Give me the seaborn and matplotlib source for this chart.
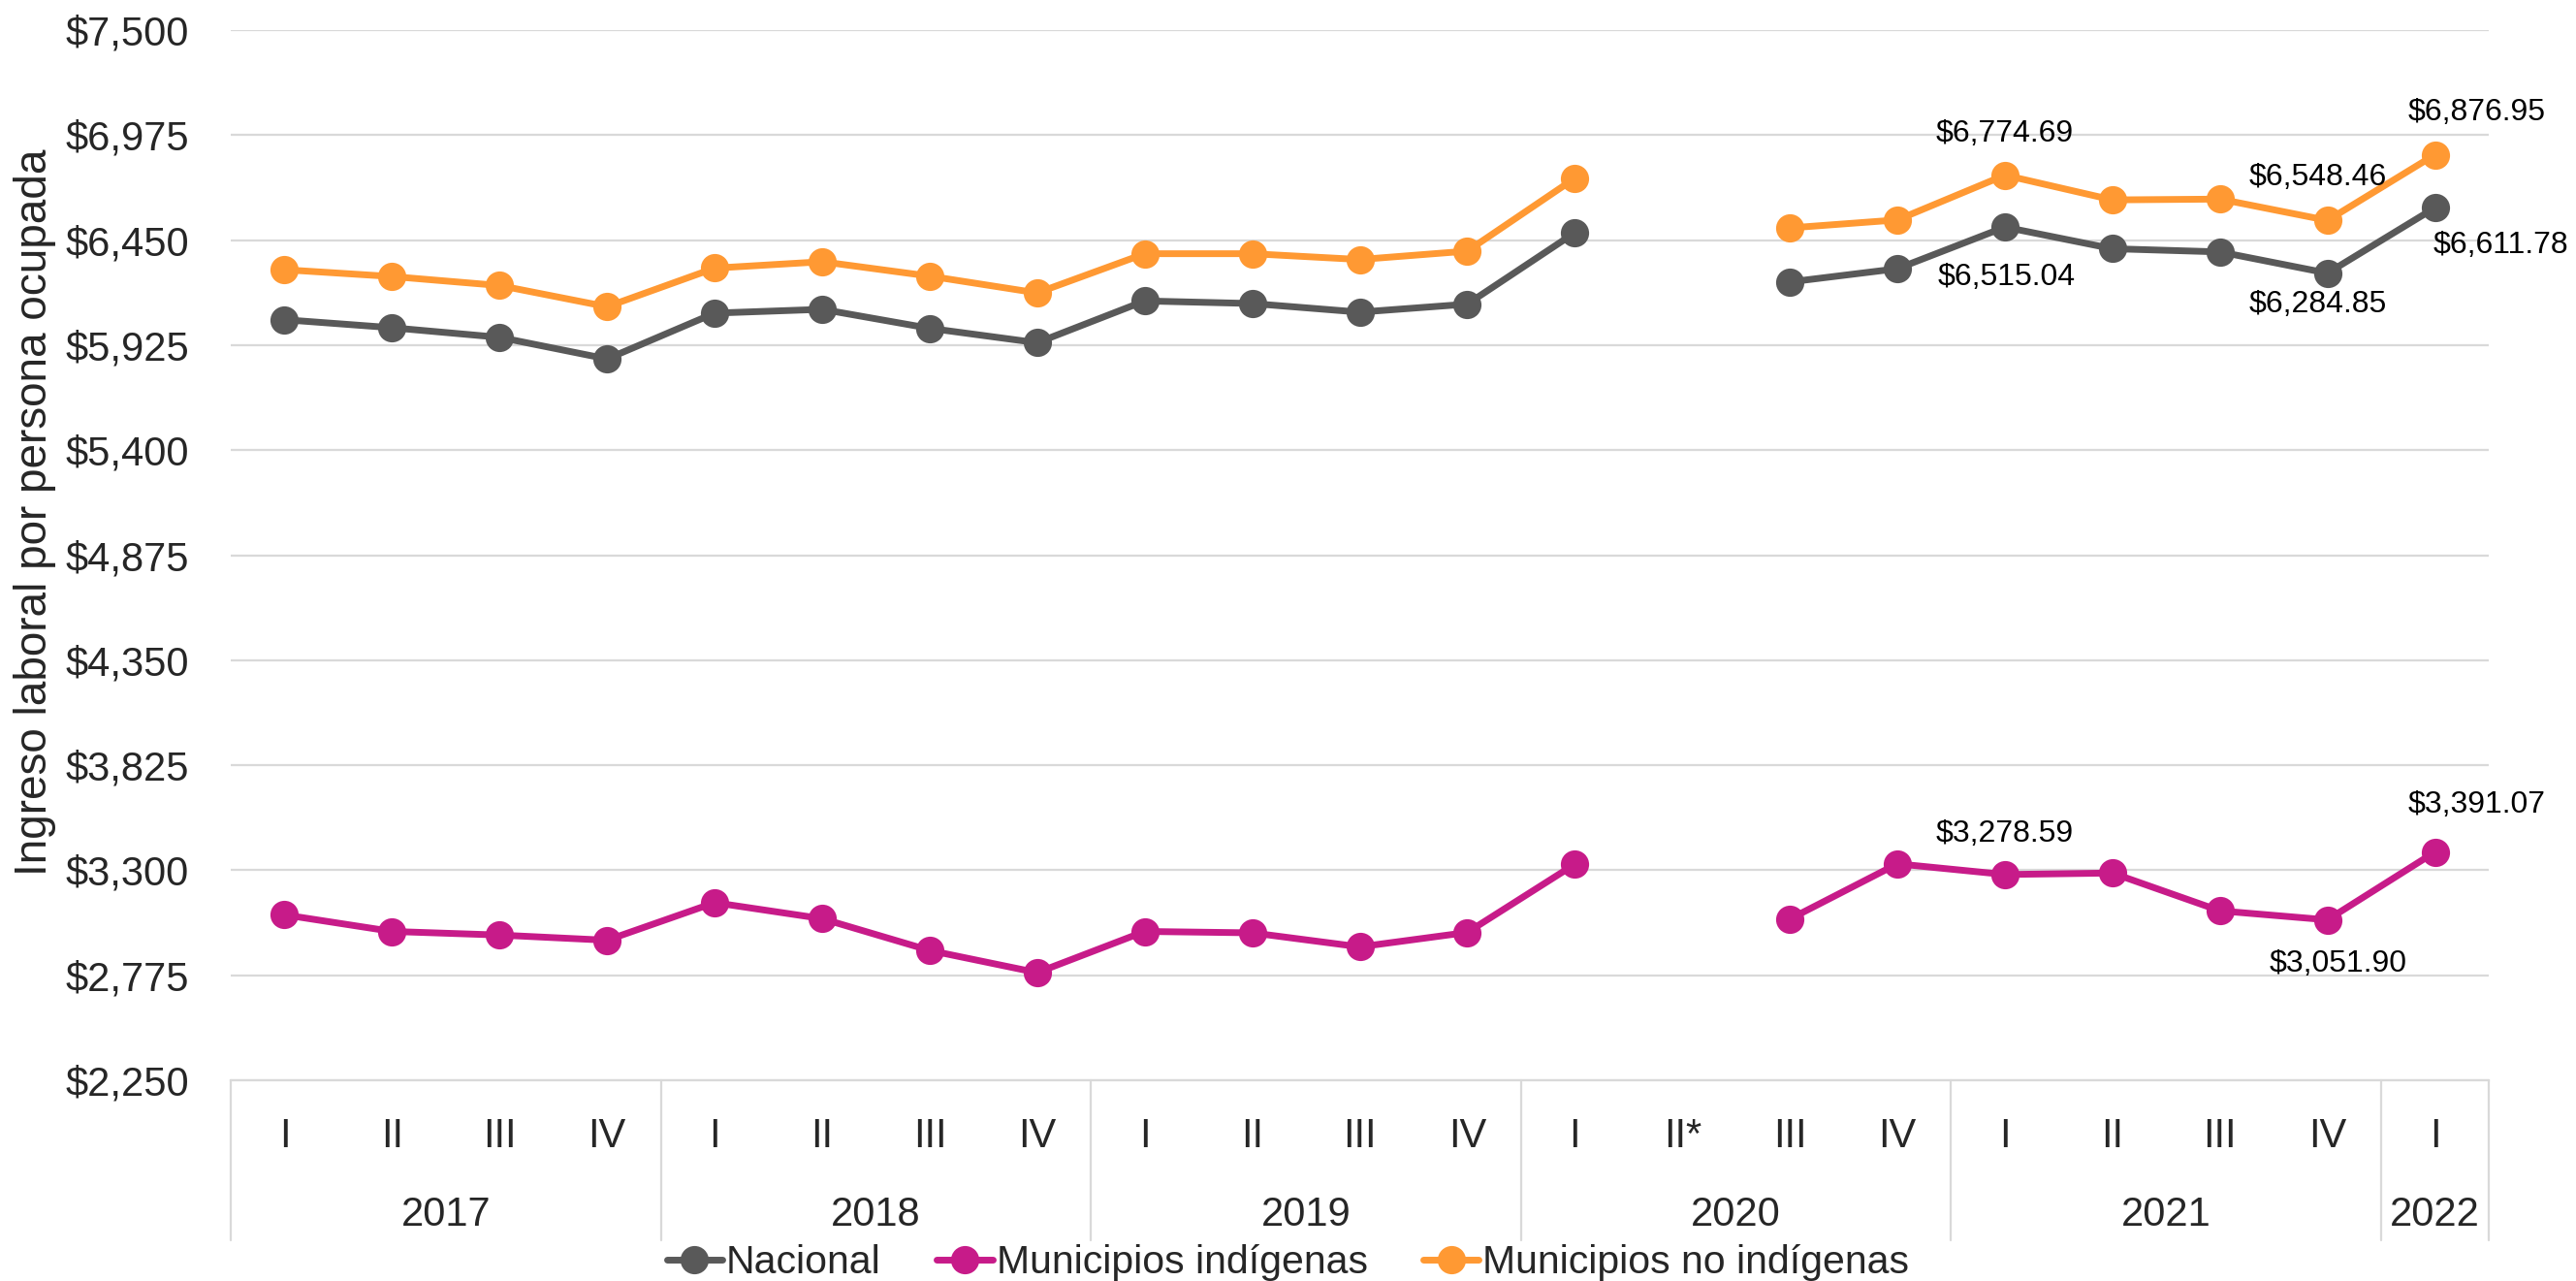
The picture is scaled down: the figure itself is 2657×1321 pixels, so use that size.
import numpy as np
import pandas as pd
import matplotlib
matplotlib.use("Agg")
import matplotlib.pyplot as plt
from matplotlib.lines import Line2D
from matplotlib.transforms import blended_transform_factory
from matplotlib.ticker import FuncFormatter, FixedLocator
import seaborn as sns

# ---- data -------------------------------------------------------------
anios = ["2017", "2018", "2019", "2020", "2021", "2022"]
trimestres_por_anio = [4, 4, 4, 4, 4, 1]
trimestres = ["I", "II", "III", "IV",
              "I", "II", "III", "IV",
              "I", "II", "III", "IV",
              "I", "II*", "III", "IV",
              "I", "II", "III", "IV",
              "I"]

nacional = [6052, 6012, 5964, 5856, 6085, 6104, 6009, 5937,
            6146, 6133, 6090, 6130, 6487, np.nan, 6241, 6307,
            6515.04, 6407, 6391, 6284.85, 6611.78]
indigenas = [3077, 2994, 2976, 2950, 3138, 3058, 2899, 2788,
             2994, 2987, 2917, 2989, 3330, np.nan, 3056, 3332,
             3278.59, 3286, 3097, 3051.90, 3391.07]
no_indigenas = [6302, 6268, 6223, 6117, 6310, 6342, 6270, 6186,
                6382, 6382, 6353, 6395, 6759, np.nan, 6511, 6551,
                6774.69, 6651, 6655, 6548.46, 6876.95]

series = ["Nacional", "Municipios indígenas", "Municipios no indígenas"]
valores = [nacional, indigenas, no_indigenas]
colores = {"Nacional": "#595959",
           "Municipios indígenas": "#C71B89",
           "Municipios no indígenas": "#FF9933"}

y_min, y_max, y_paso = 2250, 7500, 525

# labelled points: (series, quarter index, offset in points)
etiquetas = [
    ("Municipios no indígenas", 16, (0, 31)),
    ("Municipios no indígenas", 19, (-7, 32)),
    ("Municipios no indígenas", 20, (31, 31)),
    ("Nacional", 16, (1, -37)),
    ("Nacional", 19, (-7, -23)),
    ("Nacional", 20, (49, -28)),
    ("Municipios indígenas", 16, (0, 30)),
    ("Municipios indígenas", 19, (8, -33)),
    ("Municipios indígenas", 20, (31, 35)),
]

# ---- long table, split into segments at missing quarters ---------------
filas = []
for nombre, vals in zip(series, valores):
    tramo = 0
    for i, v in enumerate(vals):
        if np.isnan(v):
            tramo += 1
            continue
        filas.append({"pos": i, "valor": v, "serie": nombre, "tramo": tramo})
df = pd.DataFrame(filas)

# ---- figure -----------------------------------------------------------
sns.set_theme(style="white")
plt.rcParams["font.family"] = ["Liberation Sans", "DejaVu Sans"]

fig = plt.figure(figsize=(26.57, 13.21), dpi=100)
ax = fig.add_axes([0.08958, 0.1567, 0.96613 - 0.08958, 0.97653 - 0.1567])

grid_color = "#d9d9d9"
ax.set_ylim(y_min, y_max)
ax.yaxis.set_major_locator(FixedLocator(np.arange(y_min, y_max + 1, y_paso)))
ax.yaxis.grid(True, color=grid_color, linewidth=1.6)
ax.set_axisbelow(True)
for s in ["left", "right", "top"]:
    ax.spines[s].set_visible(False)
ax.spines["bottom"].set_color(grid_color)
ax.spines["bottom"].set_linewidth(1.6)

lw, ms = 5.0, 21
sns.lineplot(data=df, x="pos", y="valor", hue="serie", units="tramo",
             estimator=None, palette=colores, hue_order=series,
             marker="o", markersize=ms, markeredgewidth=0,
             linewidth=lw, legend=False, ax=ax)
for ln in ax.lines:
    ln.set_linewidth(lw)
    ln.set_markersize(ms)
    ln.set_markeredgewidth(0)

n = len(trimestres)
ax.set_xlim(-0.5, n - 0.5)
ax.set_xticks([])
ax.set_xlabel("")
ax.set_ylabel("")
ax.yaxis.set_major_formatter(FuncFormatter(lambda v, p: f"${v:,.0f}"))
ax.tick_params(axis="y", labelsize=30, labelcolor="#262626", length=0, pad=31)

# y axis title
fig.text(0.0135, 0.6, "Ingreso laboral por persona ocupada", rotation=90,
         ha="center", va="center", fontsize=33, color="#262626")

# ---- two-level category axis --------------------------------------------
tr = blended_transform_factory(ax.transData, fig.transFigure)
for i, t in enumerate(trimestres):
    ax.text(i, 0.1131, t, transform=tr, ha="center", va="center",
            fontsize=30, color="#262626")
inicio = 0
cortes = [-0.5]
for anio, k in zip(anios, trimestres_por_anio):
    centro = inicio + (k - 1) / 2
    ax.text(centro, 0.0517, anio, transform=tr, ha="center", va="center",
            fontsize=30, color="#262626")
    inicio += k
    cortes.append(inicio - 0.5)
for c in cortes:
    ax.add_line(Line2D([c, c], [0.1567, 0.0321], transform=tr,
                       color=grid_color, linewidth=1.6, clip_on=False))

# ---- value labels ------------------------------------------------------
for nombre, idx, (dx, dy) in etiquetas:
    v = valores[series.index(nombre)][idx]
    ax.annotate(f"${v:,.2f}", xy=(idx, v), xytext=(dx, dy),
                textcoords="offset points", ha="center", va="center",
                fontsize=23, color="black")

# ---- legend ------------------------------------------------------------
handles = [Line2D([0], [0], color=colores[s], linewidth=lw, marker="o",
                  markersize=ms, markeredgewidth=0) for s in series]
fig.legend(handles, series, loc="center", bbox_to_anchor=(0.5, 0.0144),
           ncol=3, frameon=False, fontsize=29.5, handlelength=1.4,
           handletextpad=0.1, columnspacing=1.4, borderaxespad=0,
           borderpad=0)

fig.savefig("out.png", dpi=100)
